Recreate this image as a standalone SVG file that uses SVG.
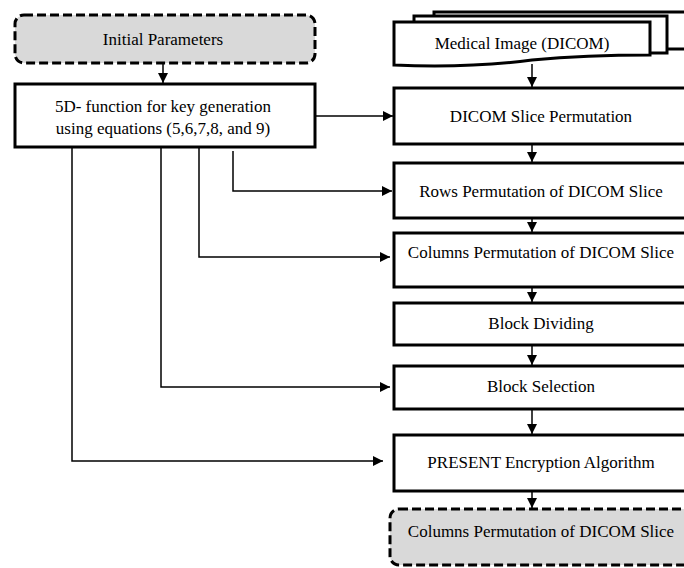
<svg xmlns="http://www.w3.org/2000/svg" width="684" height="568" viewBox="0 0 684 568">
<style>
.box{fill:#fff;stroke:#000;stroke-width:3}
.dash{fill:#d9d9d9;stroke:#000;stroke-width:3;stroke-dasharray:9 4}
.t{font-family:'Liberation Serif','DejaVu Serif',serif;font-size:17px;fill:#000;text-anchor:middle}
.c{fill:none;stroke:#000;stroke-width:1.5}
</style>
<defs>
<marker id="ah" viewBox="0 0 10 10" refX="10" refY="5" markerWidth="10" markerHeight="10" markerUnits="userSpaceOnUse" orient="auto">
<path d="M0,0 L10,5 L0,10 Z" fill="#000"/>
</marker>
</defs>
<g id="connectors">
<line class="c" x1="163" y1="63" x2="163" y2="83" marker-end="url(#ah)"/>
<line class="c" x1="316" y1="116" x2="393" y2="116" marker-end="url(#ah)"/>
<polyline class="c" points="233,151 233,191 392,191" marker-end="url(#ah)"/>
<polyline class="c" points="199,148 199,257 390,257" marker-end="url(#ah)"/>
<polyline class="c" points="161,148 161,387 390,387" marker-end="url(#ah)"/>
<polyline class="c" points="72,148 72,461 383,461" marker-end="url(#ah)"/>
<line class="c" x1="532" y1="64" x2="532" y2="87" marker-end="url(#ah)"/>
<line class="c" x1="532" y1="145" x2="532" y2="162" marker-end="url(#ah)"/>
<line class="c" x1="532" y1="219" x2="532" y2="232" marker-end="url(#ah)"/>
<line class="c" x1="532" y1="288" x2="532" y2="302" marker-end="url(#ah)"/>
<line class="c" x1="532" y1="346" x2="532" y2="365" marker-end="url(#ah)"/>
<line class="c" x1="532" y1="410" x2="532" y2="434" marker-end="url(#ah)"/>
<line class="c" x1="532" y1="492" x2="532" y2="508" marker-end="url(#ah)"/>
</g>
<g id="initial">
<rect class="dash" x="15" y="15" width="300" height="48" rx="9"/>
<text class="t" x="163" y="45">Initial Parameters</text>
</g>
<g id="keygen">
<rect class="box" x="15" y="84" width="300" height="63"/>
<text class="t" x="163" y="112">5D- function for key generation</text>
<text class="t" x="163" y="134">using equations (5,6,7,8, and 9)</text>
</g>
<g id="medical">
<rect class="box" x="434" y="12" width="260" height="37"/>
<rect class="box" x="414" y="16" width="253" height="37"/>
<path class="box" d="M394,22 H650 V55 C610,55 575,56 532,60 C485,66 440,67 394,65 Z"/>
<text class="t" x="522" y="49">Medical Image (DICOM)</text>
</g>
<g id="slice">
<rect class="box" x="394" y="88" width="300" height="56"/>
<text class="t" x="541" y="122">DICOM Slice Permutation</text>
</g>
<g id="rows">
<rect class="box" x="394" y="163" width="300" height="55"/>
<text class="t" x="541" y="197">Rows Permutation of DICOM Slice</text>
</g>
<g id="columns">
<rect class="box" x="394" y="233" width="300" height="54"/>
<text class="t" x="541" y="258">Columns Permutation of DICOM Slice</text>
</g>
<g id="dividing">
<rect class="box" x="394" y="303" width="300" height="42"/>
<text class="t" x="541" y="329">Block Dividing</text>
</g>
<g id="selection">
<rect class="box" x="394" y="366" width="300" height="43"/>
<text class="t" x="541" y="392">Block Selection</text>
</g>
<g id="present">
<rect class="box" x="394" y="435" width="300" height="56"/>
<text class="t" x="541" y="468">PRESENT Encryption Algorithm</text>
</g>
<g id="output">
<rect class="dash" x="390" y="509" width="310" height="56" rx="9"/>
<text class="t" x="541" y="537">Columns Permutation of DICOM Slice</text>
</g>
</svg>
